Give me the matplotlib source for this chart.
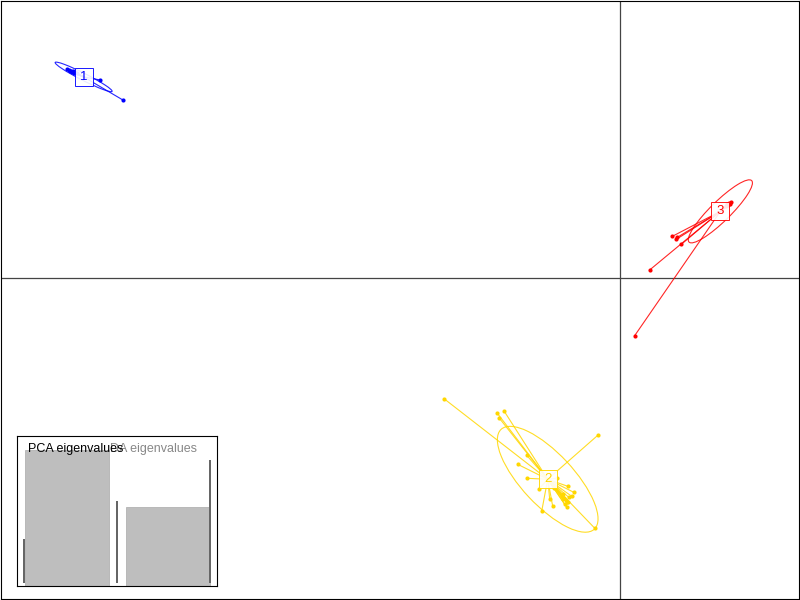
import numpy as np
import matplotlib
matplotlib.use("Agg")
import matplotlib.pyplot as plt
from matplotlib.patches import Ellipse

plt.rcParams['font.family'] = ['Liberation Sans', 'DejaVu Sans']

# discriminant function scores (LD1, LD2) per group
grp_names = ['1', '2', '3']
grp_cols = ['#0000FF', '#FFD700', '#FF0000']

ld1_g1 = [-5.54, -5.52, -5.50, -5.48, -5.46, -5.44, -5.51, -5.49, -5.47, -5.21, -4.98]
ld2_g1 = [2.10, 2.09, 2.08, 2.08, 2.07, 2.06, 2.08, 2.07, 2.06, 1.99, 1.79]

ld1_g2 = [-1.76, -1.23, -1.16, -1.21, -0.22, -0.93, -1.02, -0.93, -0.81, -0.63,
          -0.52, -0.46, -0.48, -0.70, -0.67, -0.78, -0.53, -0.25, -0.66, -0.57,
          -0.53, -0.58, -0.56, -0.54, -0.52, -0.55, -0.57, -0.51]
ld2_g2 = [-1.21, -1.35, -1.33, -1.40, -1.58, -1.78, -1.87, -2.01, -2.12, -2.01,
          -2.09, -2.15, -2.19, -2.22, -2.29, -2.34, -2.30, -2.51, -2.11, -2.22,
          -2.25, -2.19, -2.21, -2.23, -2.25, -2.27, -2.17, -2.20]

ld1_g3 = [1.10, 1.11, 1.09, 1.12, 1.07, 1.08, 0.53, 0.58, 0.57, 0.62, 0.30, 0.15]
ld2_g3 = [0.75, 0.74, 0.73, 0.76, 0.72, 0.74, 0.42, 0.41, 0.39, 0.34, 0.08, -0.58]

centroids = [(-5.37, 2.02), (-0.72, -2.02), (1.01, 0.67)]
# ellipse (width, height, angle)
ell_pars = [(0.64, 0.07, -27), (1.37, 0.52, -47), (0.88, 0.20, 44.5)]

# eigenvalues for the insets
da_eig = [1355.0, 787.0]
pca_eig = [44.0, 82.0, 123.0]

fig = plt.figure(figsize=(8, 6), dpi=100)
ax = fig.add_axes([0.001, 0.002, 0.998, 0.996])
ax.set_xlim(-6.2, 1.8)
ax.set_ylim(-3.22, 2.78)
ax.set_xticks([])
ax.set_yticks([])
for s in ax.spines.values():
    s.set_linewidth(0.8)
ax.axhline(0, color='#444444', lw=0.9, zorder=0)
ax.axvline(0, color='#444444', lw=0.9, zorder=0)

groups = [(ld1_g1, ld2_g1), (ld1_g2, ld2_g2), (ld1_g3, ld2_g3)]
for i in range(3):
    xs, ys = groups[i]
    cx, cy = centroids[i]
    col = grp_cols[i]
    for x, y in zip(xs, ys):
        ax.plot([cx, x], [cy, y], color=col, lw=0.8, alpha=0.85, zorder=2)
    ax.plot(xs, ys, 'o', color=col, ms=3, mew=0, zorder=3)
    w, h, a = ell_pars[i]
    ax.add_patch(Ellipse((cx, cy), w, h, angle=a, fill=False, ec=col, lw=0.8, alpha=0.85, zorder=2))
    ax.plot(cx, cy, 's', ms=12.5, mfc='white', mec=col, mew=0.7, alpha=0.9, zorder=4)
    ax.text(cx, cy, grp_names[i], color=col, fontsize=9.5, ha='center', va='center', zorder=5)

# DA eigenvalues inset
ins = fig.add_axes([17/800, 14/600, 200/800, 150/600])
ins.bar([0.7, 1.9], da_eig, width=1.0, color='#BEBEBE', edgecolor='#AAAAAA', lw=0.5)
ins.set_xlim(0.105, 2.486)
ins.set_ylim(0, da_eig[0] * 150 / 136)
ins.set_xticks([])
ins.set_yticks([])
for s in ins.spines.values():
    s.set_linewidth(0.8)
ins.text(0.465, 0.955, 'DA eigenvalues', transform=ins.transAxes, color='#888888',
         fontsize=9, ha='left', va='top')

# PCA eigenvalues inset (drawn on top)
ins2 = fig.add_axes([17/800, 14/600, 200/800, 150/600])
ins2.patch.set_alpha(0)
top = pca_eig[2] * 147 / 123
ins2.bar([1, 2, 3], pca_eig, width=0.02, color='#666666')
ins2.set_xlim(0.925, 3.075)
ins2.set_ylim(-top * 3 / 147, top)
ins2.set_xticks([])
ins2.set_yticks([])
for s in ins2.spines.values():
    s.set_visible(False)
ins2.text(0.055, 0.955, 'PCA eigenvalues', transform=ins2.transAxes, color='black',
          fontsize=9, ha='left', va='top')

fig.savefig('out.png', dpi=100)
